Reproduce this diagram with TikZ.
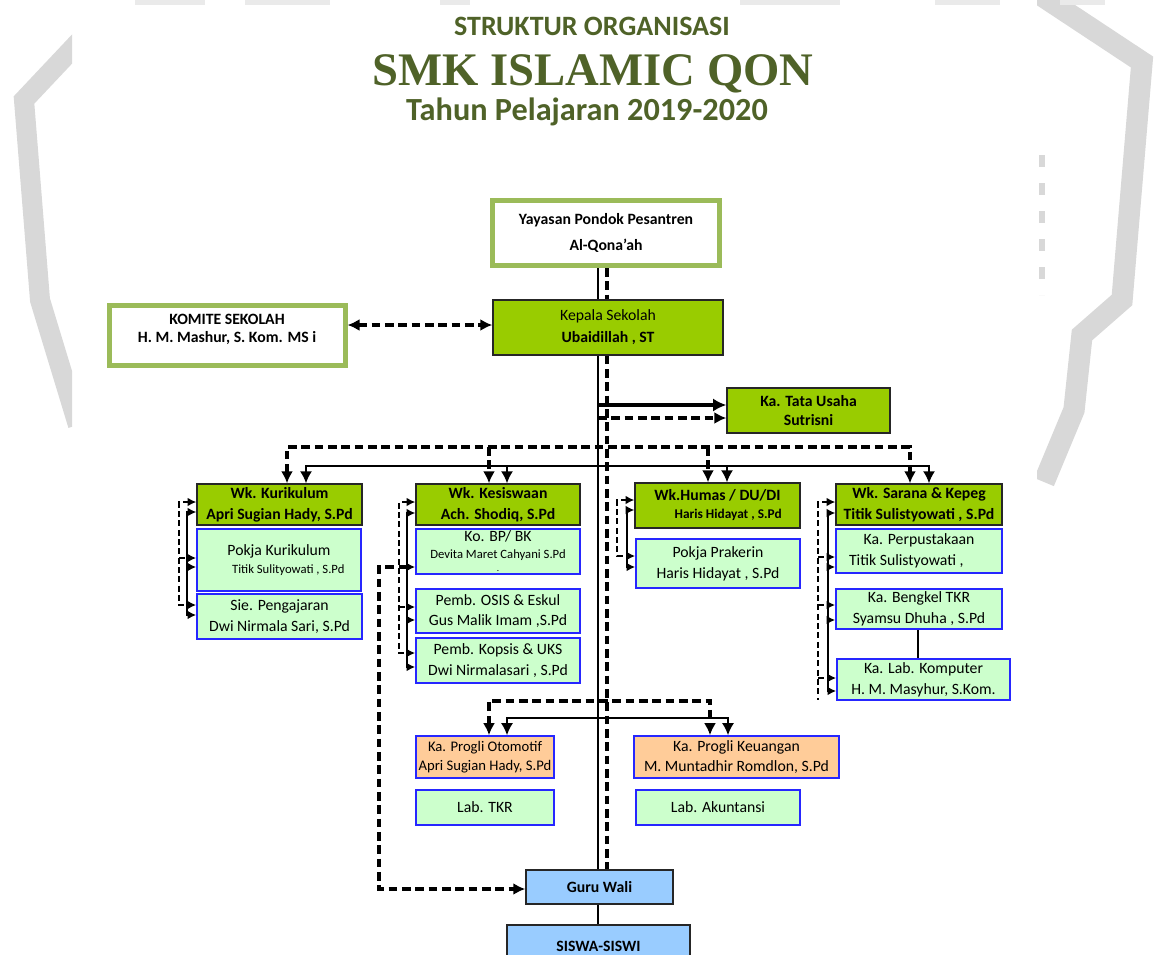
\documentclass[tikz,border=0pt]{standalone}
\usepackage{fontspec}
\setmainfont{Carlito}
\newfontfamily\titleserif{Liberation Serif}
\usetikzlibrary{arrows.meta,calc}
\definecolor{olivet}{HTML}{4F6228}
\definecolor{limeg}{HTML}{99CC00}
\definecolor{mint}{HTML}{CCFFCC}
\definecolor{peach}{HTML}{FFCC99}
\definecolor{sky}{HTML}{99CCFF}
\definecolor{leaf}{HTML}{9BBB59}
\definecolor{bord}{HTML}{2626FF}
\definecolor{wmark}{HTML}{D8D8D8}
\newcommand{\bx}[7]{%
  \pgfmathsetmacro{\bxw}{(#4-#2)*0.75}%
  \pgfmathsetmacro{\bxh}{(#5-#3)*0.75}%
  \node[#6, minimum width=\bxw pt, minimum height=\bxh pt] (#1) at ({(#2+#4)/2},{(#3+#5)/2}) {#7};}
\tikzset{
  boxbase/.style={align=center, inner sep=0pt, outer sep=auto, text=black, font=\fontsize{11.8}{16}\selectfont},
  boxyay/.style={boxbase, draw=leaf, line width=3.75pt, fill=white},
  boxlime/.style={boxbase, draw=black!85, line width=1pt, fill=limeg},
  boxmint/.style={boxbase, draw=bord, line width=1.2pt, fill=mint},
  boxpeach/.style={boxbase, draw=bord, line width=1.2pt, fill=peach},
  boxsky/.style={boxbase, draw=black!85, line width=1.1pt, fill=sky},
  dsh/.style={line width=2.8pt, dash pattern=on 6.5pt off 3.5pt},
  sol/.style={line width=1.3pt},
  sdsh/.style={line width=2.1pt, dash pattern=on 4.5pt off 2.5pt},
  ssol/.style={line width=1.2pt},
  bigarr/.style={-{Latex[length=9pt,width=9pt]}},
  bigboth/.style={{Latex[length=9pt,width=9pt]}-{Latex[length=9pt,width=9pt]}},
  sarr/.style={-{Latex[length=6.5pt,width=6.5pt]}},
  sboth/.style={{Latex[length=6.5pt,width=6.5pt]}-{Latex[length=6.5pt,width=6.5pt]}},
  sstart/.style={{Latex[length=6.5pt,width=6.5pt]}-},
  ttl/.style={text=olivet, anchor=base, inner sep=0pt}
}
\begin{document}
\begin{tikzpicture}[x=0.75pt,y=-0.75pt]
\useasboundingbox (0,0) rectangle (1154,954);
\clip (0,0) rectangle (1154,954);
\fill[white] (0,0) rectangle (1154,954);
% watermark
\begin{scope}
\clip (0,0) rectangle (72,954);
\draw[wmark, line width=15pt, line join=miter] (90,30) -- (24,100) -- (40,300) -- (78,425);
\end{scope}
\begin{scope}
\clip (1037,0) rectangle (1154,954);
\draw[wmark, line width=16pt, line join=miter] (1030,-12) -- (1142,62) -- (1122,300) -- (1082,335) -- (1074,410) -- (1044,482);
\draw[wmark, line width=5pt, dash pattern=on 9pt off 12pt] (1042,155) -- (1042,295);
\end{scope}
\foreach \a/\b in {135/205, 245/330, 440/470, 740/840, 935/1000, 1060/1105}
  \draw[wmark!55, line width=4pt] (\a,2) -- (\b,2);
% titles
\node[ttl, font=\fontsize{21}{24}\selectfont\bfseries] (t1) at (592,35) {STRUKTUR ORGANISASI};
\node[ttl, font=\titleserif\fontsize{35}{40}\selectfont\bfseries] (t2) at (593,85) {SMK ISLAMIC QON};
\node[ttl, font=\fontsize{24.2}{28}\selectfont\bfseries] (t3) at (587,120) {Tahun Pelajaran 2019-2020};
% boxes
\bx{yayasan}{492.5}{200.5}{719.5}{265.5}{boxyay}{\textbf{Yayasan Pondok Pesantren}\\[4pt]\textbf{Al-Qona’ah}}
\bx{komite}{109.5}{305.5}{345}{365}{boxyay}{}
\node[boxbase, font=\fontsize{11.8}{13.5}\selectfont\bfseries] (komitetext) at (227,329) {KOMITE SEKOLAH\\H. M. Mashur, S. Kom. MS i};
\bx{kepala}{493}{300}{723}{355}{boxlime}{Kepala Sekolah\\[0.5pt]\textbf{Ubaidillah , ST}}
\bx{tu}{727}{388}{890}{433}{boxlime}{\textbf{Ka. Tata Usaha}\\[-1.5pt]\textbf{Sutrisni}}
\bx{wkkur}{197}{484}{362}{525}{boxlime}{\textbf{Wk. Kurikulum}\\\textbf{Apri Sugian Hady, S.Pd}}
\bx{pokkur}{197}{529}{361}{591}{boxmint}{Pokja Kurikulum\\[-3pt]\hspace*{14pt}{\fontsize{9.5}{11}\selectfont Titik Sulityowati , S.Pd}}
\bx{sie}{197}{594}{362}{639}{boxmint}{Sie. Pengajaran\\Dwi Nirmala Sari, S.Pd}
\bx{wkkes}{416}{484}{580}{525}{boxlime}{\textbf{Wk. Kesiswaan}\\\textbf{Ach. Shodiq, S.Pd}}
\bx{bpbk}{416}{529}{580}{574}{boxmint}{Ko. BP/ BK\\[-3.5pt]{\fontsize{9.5}{11}\selectfont Devita Maret Cahyani S.Pd}\\[-6pt]{\fontsize{7}{7}\selectfont .}}
\bx{osis}{416}{589}{580}{633}{boxmint}{Pemb. OSIS \& Eskul\\[-1.5pt]Gus Malik Imam ,S.Pd}
\bx{kopsis}{416}{638}{580}{683}{boxmint}{Pemb. Kopsis \& UKS\\Dwi Nirmalasari , S.Pd}
\bx{wkhum}{635}{483}{800}{528}{boxlime}{\textbf{Wk.Humas / DU/DI}\\[-2.5pt]\hspace*{16pt}{\fontsize{10}{11}\selectfont\bfseries Haris Hidayat , S.Pd}}
\bx{prak}{636}{539}{800}{588}{boxmint}{Pokja Prakerin\\Haris Hidayat , S.Pd}
\bx{wksar}{836}{484}{1002}{525}{boxlime}{\textbf{Wk. Sarana \& Kepeg}\\\textbf{Titik Sulistyowati , S.Pd}}
\bx{perpus}{836}{529}{1002}{573}{boxmint}{Ka. Perpustakaan\\\mbox{Titik Sulistyowati ,\hspace{19pt}}}
\bx{bengkel}{836}{589}{1002}{629}{boxmint}{Ka. Bengkel TKR\\Syamsu Dhuha , S.Pd}
\bx{labkom}{837}{659}{1010}{700}{boxmint}{Ka. Lab. Komputer\\H. M. Masyhur, S.Kom.}
\bx{oto}{416}{736}{554}{778}{boxpeach, font=\fontsize{11}{15.5}\selectfont}{Ka. Progli Otomotif\\[-1pt]Apri Sugian Hady, S.Pd}
\bx{keu}{634}{736}{839}{778}{boxpeach}{Ka. Progli Keuangan\\[-1.5pt]M. Muntadhir Romdlon, S.Pd}
\bx{labtkr}{416}{790}{554}{825}{boxmint}{Lab. TKR}
\bx{labakt}{636}{790}{800}{825}{boxmint}{Lab. Akuntansi}
\bx{guru}{526}{870}{673}{904}{boxsky}{\textbf{Guru Wali}}
\bx{siswa}{507}{925}{690}{968}{boxsky}{\textbf{SISWA-SISWI}}
% main verticals
\coordinate (sx) at (598,0);
\coordinate (dx) at (607,0);
\draw[sol] (yayasan.south -| sx) -- (kepala.north -| sx);
\draw[dsh] (yayasan.south -| dx) -- (kepala.north -| dx);
\draw[sol] (kepala.south -| sx) -- (guru.north -| sx);
\draw[dsh] (kepala.south -| dx) -- (guru.north -| dx);
\draw[sol] (guru.south -| sx) -- (siswa.north -| sx);
% komite
\draw[dsh,bigboth] (komite.east |- 0,325) -- (kepala.west |- 0,325);
% tata usaha
\draw[line width=3.2pt,-{Latex[length=10pt,width=10pt]}] (sx |- 0,405) -- (tu.west |- 0,405);
\draw[dsh,bigarr] (sx |- 0,418) -- (tu.west |- 0,418);
% wakil buses
\coordinate (d1) at (287,447); \coordinate (d2) at (489,447); \coordinate (d3) at (708,447); \coordinate (d4) at (910,447);
\coordinate (s1) at (306,466); \coordinate (s2) at (507,466); \coordinate (s3) at (727,466); \coordinate (s4) at (929,466);
\draw[dsh,bigboth] (d1 |- wkkur.north) -- (d1) -- (d4) -- (d4 |- wksar.north);
\draw[dsh,bigarr] (d2) -- (d2 |- wkkes.north);
\draw[dsh,bigarr] (d3) -- (d3 |- wkhum.north);
\draw[sol,bigboth] (s1 |- wkkur.north) -- (s1) -- (s4) -- (s4 |- wksar.north);
\draw[sol,bigarr] (s2) -- (s2 |- wkkes.north);
\draw[sol,bigarr] (s3) -- (s3 |- wkhum.north);
% progli buses
\coordinate (pd1) at (489,701); \coordinate (pd2) at (710,701);
\coordinate (ps1) at (507,718); \coordinate (ps2) at (728,718);
\draw[dsh,bigboth] (pd1 |- oto.north) -- (pd1) -- (pd2) -- (pd2 |- keu.north);
\draw[sol,bigboth] (ps1 |- oto.north) -- (ps1) -- (ps2) -- (ps2 |- keu.north);
% kurikulum bracket
\draw[sdsh,sboth] (wkkur.west |- 0,502) -- (179,502) -- (179,605) -- (sie.west |- 0,605);
\draw[sdsh,sarr] (179,558) -- (pokkur.west |- 0,558);
\draw[ssol,sboth] (wkkur.west |- 0,512) -- (187,512) -- (187,615) -- (sie.west |- 0,615);
\draw[ssol,sarr] (187,567) -- (pokkur.west |- 0,567);
% kesiswaan bracket
\draw[sdsh,sboth] (wkkes.west |- 0,502) -- (399,502) -- (399,653) -- (kopsis.west |- 0,653);
\draw[sdsh,sarr] (399,607) -- (osis.west |- 0,607);
\draw[ssol,sboth] (wkkes.west |- 0,513) -- (407,513) -- (407,667) -- (kopsis.west |- 0,667);
\draw[ssol,sarr] (407,620) -- (osis.west |- 0,620);
\draw[dsh,{Latex[length=6.5pt,width=6.5pt]}-{Latex[length=9pt,width=9pt]}] (bpbk.west |- 0,567) -- (379,567) -- (379,889) -- (guru.west |- 0,889);
% humas bracket
\draw[sdsh,sboth] (wkhum.west |- 0,500) -- (617,500) -- (617,556) -- (prak.west |- 0,556);
\draw[ssol,sboth] (wkhum.west |- 0,510) -- (627,510) -- (627,567) -- (prak.west |- 0,567);
% sarana bracket
\draw[sdsh,sstart] (wksar.west |- 0,502) -- (818,502) -- (818,700);
\draw[sdsh,sarr] (818,557) -- (perpus.west |- 0,557);
\draw[sdsh,sarr] (818,605) -- (bengkel.west |- 0,605);
\draw[sdsh,sarr] (818,678) -- (labkom.west |- 0,678);
\draw[ssol,sboth] (wksar.west |- 0,513) -- (828,513) -- (828,691) -- (labkom.west |- 0,691);
\draw[ssol,sarr] (828,567) -- (perpus.west |- 0,567);
\draw[ssol,sarr] (828,620) -- (bengkel.west |- 0,620);
\draw[line width=0.9pt] (bengkel.south -| 918,0) -- (labkom.north -| 918,0);
\end{tikzpicture}
\end{document}
